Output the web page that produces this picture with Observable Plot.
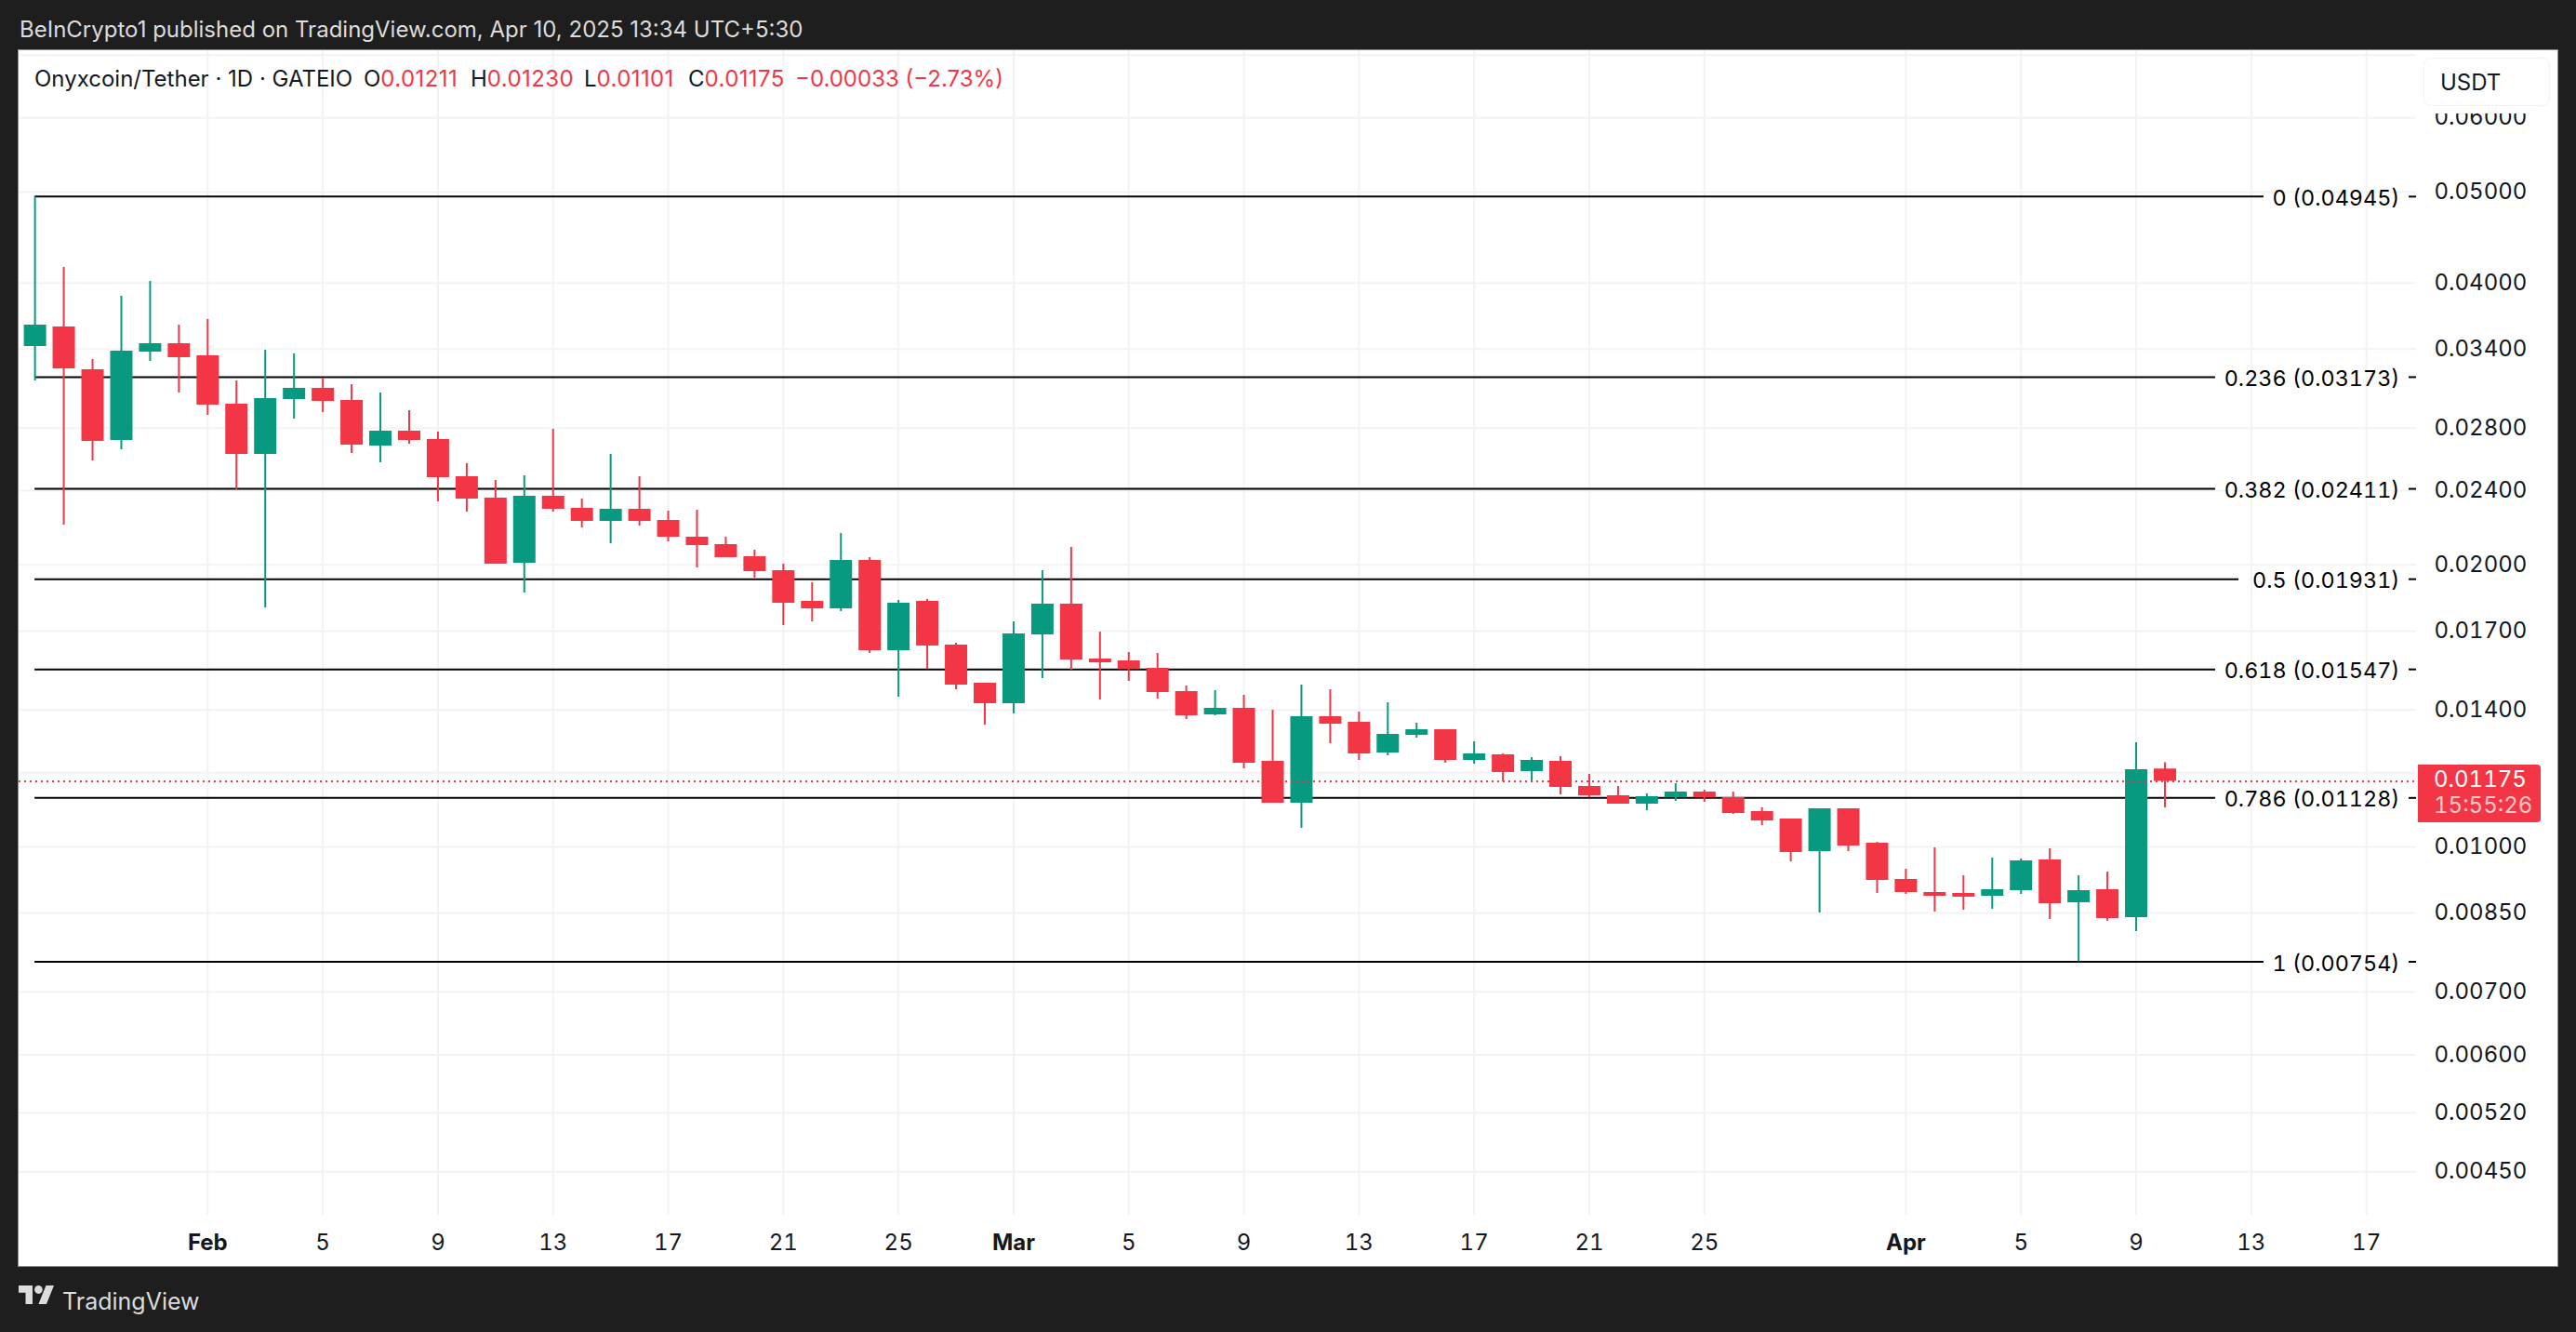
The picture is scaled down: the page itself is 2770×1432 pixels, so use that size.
<!doctype html>
<html><head><meta charset="utf-8">
<script src="https://cdn.jsdelivr.net/npm/d3@7"></script>
<script src="https://cdn.jsdelivr.net/npm/@observablehq/plot@0.6"></script>
<style>
html,body{margin:0;background:#1e1e1e;overflow:hidden;font-family:Inter,sans-serif}
#top{height:54px;line-height:64px;padding-left:21px;font-size:24px;color:#dcdcdc;white-space:nowrap}
#panel{position:relative;margin-left:20px;width:2730px;height:1307px;background:#fff;box-shadow:0 0 0 1px #8a8a8a}
#panel svg{display:block}
#legend{position:absolute;left:17px;top:15px;line-height:32px;font-size:24px;color:#131722;white-space:nowrap}
#legend b{font-weight:400;color:#f23645;letter-spacing:.4px}
#legend b.chg{letter-spacing:0}
#legend span{position:absolute;top:0}
#usdt{position:absolute;left:2586px;top:8px;width:136px;height:52px;box-sizing:border-box;border:1px solid #f0f3fa;border-radius:8px;background:#fff;box-shadow:0 8px 0 0 #fff;font-size:24px;line-height:52px;padding-left:17px;color:#131722}
#tag{position:absolute;left:2580px;top:768px;width:132px;height:61.5px;background:#f23645;border-radius:0 4px 4px 0;font-size:24px;color:#fff;font-variant-numeric:tabular-nums}
#tag div{position:absolute;left:17px;white-space:nowrap}
#foot{position:relative;height:71px;color:#dcdcdc}
#foot svg{position:absolute;left:20px;top:21px}
#foot div{position:absolute;left:67px;top:22px;font-size:25px;line-height:32px}
</style></head>
<body>
<div id="top">BeInCrypto1 published on TradingView.com, Apr 10, 2025 13:34 UTC+5:30</div>
<div id="panel">
<div id="chart"></div>
<div id="legend">Onyxcoin/Tether · 1D · GATEIO
<span style="left:354px">O<b>0.01211</b></span><span style="left:469px">H<b>0.01230</b></span><span style="left:591px">L<b>0.01101</b></span><span style="left:703px">C<b>0.01175</b></span><span style="left:818px"><b class="chg">−0.00033 (−2.73%)</b></span></div>
<div id="usdt">USDT</div>
<div id="tag"><div style="top:1px">0.01175</div><div style="top:29px;color:rgba(255,255,255,.72)">15:55:26</div></div>
</div>
<div id="foot"><svg width="38" height="20" viewBox="0 4 35.5 18" preserveAspectRatio="none" fill="#dcdcdc"><path d="M14 22H7V11H0V4h14v18zM28 22h-8l7.5-18h8L28 22z"/><circle cx="20" cy="8" r="4"/></svg><div>TradingView</div></div>
<script>
const firstDay = "2025-01-26";
const opens = [0.034212,0.035895,0.032312,0.027158,0.033746,0.034448,0.033439,0.029691,0.026242,0.030032,0.030867,0.029963,0.026788,0.027786,0.02722,0.024841,0.023569,0.020083,0.023677,0.022983,0.022259,0.022931,0.02231,0.021411,0.021023,0.020407,0.019719,0.018286,0.017955,0.020221,0.0162,0.018286,0.016423,0.014954,0.01422,0.016842,0.018161,0.015869,0.015797,0.015511,0.014649,0.013835,0.014059,0.012341,0.011134,0.013772,0.013585,0.012597,0.013157,0.013338,0.012369,0.01254,0.012034,0.012341,0.011602,0.01134,0.011109,0.011288,0.011444,0.011288,0.010908,0.01071,0.009886,0.010983,0.010092,0.009231,0.00894,0.00892,0.008859,0.008981,0.009685,0.008718,0.009002,0.008405,0.01211];
const highs = [0.04945,0.041551,0.033134,0.038708,0.04015,0.036059,0.036557,0.031437,0.033901,0.033592,0.031653,0.031151,0.030517,0.029219,0.027723,0.025649,0.024615,0.024898,0.027913,0.023515,0.026242,0.024841,0.022826,0.022879,0.021411,0.020736,0.020037,0.019142,0.021608,0.020361,0.018328,0.01837,0.016499,0.014954,0.017389,0.019719,0.020879,0.016958,0.016126,0.016089,0.014852,0.014683,0.014516,0.013994,0.014886,0.014716,0.013931,0.014253,0.013554,0.013338,0.012948,0.012569,0.012454,0.012483,0.011952,0.011602,0.011392,0.011682,0.011497,0.011444,0.011008,0.01071,0.010983,0.010983,0.010115,0.009466,0.009977,0.009316,0.009729,0.009707,0.009954,0.009316,0.009401,0.012918,0.0123];
const lows = [0.031437,0.022057,0.025826,0.026544,0.032983,0.030517,0.028887,0.024059,0.017996,0.028624,0.029086,0.026302,0.025708,0.026911,0.023354,0.022774,0.020037,0.018666,0.022774,0.021906,0.021071,0.022006,0.021168,0.019855,0.020361,0.019362,0.017231,0.017389,0.017832,0.016089,0.01445,0.015475,0.014716,0.013492,0.013867,0.015126,0.01544,0.014351,0.015022,0.014384,0.013678,0.013804,0.012117,0.011134,0.010468,0.012889,0.012369,0.012511,0.013067,0.012285,0.012257,0.011736,0.011753,0.011366,0.011288,0.011109,0.010933,0.011185,0.01116,0.010833,0.01054,0.009641,0.008502,0.009886,0.00892,0.008899,0.008521,0.00856,0.00858,0.008899,0.008367,0.00754,0.008329,0.008122,0.01101];
const closes = [0.036059,0.032386,0.027096,0.033823,0.034448,0.033286,0.029623,0.026242,0.030101,0.030867,0.029895,0.026849,0.027786,0.027158,0.024785,0.023515,0.020037,0.023677,0.022931,0.022259,0.022931,0.022259,0.021411,0.020975,0.020361,0.019674,0.018203,0.017955,0.020221,0.0162,0.018203,0.016386,0.014886,0.01422,0.01688,0.018161,0.015833,0.015725,0.015475,0.014616,0.013804,0.014059,0.012285,0.011134,0.013772,0.013523,0.012569,0.013187,0.013338,0.012369,0.012569,0.012007,0.012369,0.011576,0.01134,0.011109,0.011314,0.011444,0.011288,0.010858,0.010661,0.009864,0.010983,0.010023,0.00921,0.00894,0.008859,0.008839,0.009002,0.009663,0.008698,0.008981,0.008386,0.01209,0.01175];

const fibRatios = ["0","0.236","0.382","0.5","0.618","0.786","1"];
const fibPrices = [0.04945,0.03173,0.02411,0.01931,0.01547,0.01128,0.00754];
const fibEndDays = [71.44,69.76,69.76,70.57,69.76,69.76,71.44];

const priceLabels = [0.06,0.05,0.04,0.034,0.028,0.024,0.02,0.017,0.014,0.01,0.0085,0.007,0.006,0.0052,0.0045];
const extraGrid = [0.07,0.012];
const dayTicks = ["2025-02-05","2025-02-09","2025-02-13","2025-02-17","2025-02-21","2025-02-25","2025-03-05","2025-03-09","2025-03-13","2025-03-17","2025-03-21","2025-03-25","2025-04-05","2025-04-09","2025-04-13","2025-04-17"].map(d=>new Date(d));
const monthTicks = ["2025-02-01","2025-03-01","2025-04-01"].map(d=>new Date(d));
const lastPrice = 0.01175;

const feb1 = Date.UTC(2025,1,1);
const day = n => new Date(feb1 + n*864e5);
const candles = opens.map((o,i)=>({date:d3.utcDay.offset(new Date(firstDay),i),open:o,high:highs[i],low:lows[i],close:closes[i]}));
const up = candles.filter(d=>d.close>=d.open), down = candles.filter(d=>d.close<d.open);
const fib = fibPrices.map((p,i)=>({price:p,label:`${fibRatios[i]} (${p.toFixed(5)})`,end:day(fibEndDays[i])}));
const GREEN="#089981", RED="#f23645", INK="#131722", GRID="#f3f3f3";
const font = {fontSize:24,fontVariant:"tabular-nums"};
const plot = Plot.plot({
  width:2730,height:1307,marginLeft:0,marginRight:152,marginTop:0,marginBottom:55,
  style:{background:"transparent",fontFamily:"Inter, sans-serif",color:INK},
  x:{type:"utc",domain:[day(-6.553),day(76.74)]},
  y:{type:"log",domain:[0.004044,0.07078],axis:null},
  marks:[
    Plot.ruleY([...priceLabels,...extraGrid],{stroke:GRID,strokeWidth:2}),
    Plot.ruleX([...dayTicks,...monthTicks],{stroke:GRID,strokeWidth:2}),
    Plot.ruleY(fib,{y:"price",x1:()=>new Date(firstDay),x2:"end",stroke:"#000",strokeWidth:2}),
    Plot.ruleY(fib,{y:"price",x1:()=>day(76.48),x2:()=>day(76.74),stroke:"#000",strokeWidth:2}),
    Plot.text(fib,{y:"price",frameAnchor:"right",dx:-18,dy:2,text:"label",textAnchor:"end",fill:"#000",fontSize:23.4,fontVariant:"tabular-nums"}),
    Plot.ruleX(up,{x:"date",y1:"low",y2:"high",stroke:GREEN,strokeWidth:2}),
    Plot.ruleX(down,{x:"date",y1:"low",y2:"high",stroke:RED,strokeWidth:2}),
    Plot.ruleX(up,{x:"date",y1:"open",y2:"close",stroke:GREEN,strokeWidth:24}),
    Plot.ruleX(down,{x:"date",y1:"open",y2:"close",stroke:RED,strokeWidth:24}),
    Plot.ruleY([lastPrice],{stroke:RED,strokeWidth:2,strokeDasharray:"2 4"}),
    Plot.text(priceLabels,{y:d=>d,frameAnchor:"right",dx:19,textAnchor:"start",text:d=>d.toFixed(5),fill:INK,...font}),
    Plot.axisX({anchor:"bottom",ticks:dayTicks,tickFormat:d=>String(d.getUTCDate()),tickSize:0,tickPadding:20,label:null,...font}),
    Plot.axisX({anchor:"bottom",ticks:monthTicks,tickFormat:d3.utcFormat("%b"),tickSize:0,tickPadding:20,label:null,fontWeight:"bold",...font})
  ]
});
document.getElementById("chart").append(plot);
</script>
</body></html>
